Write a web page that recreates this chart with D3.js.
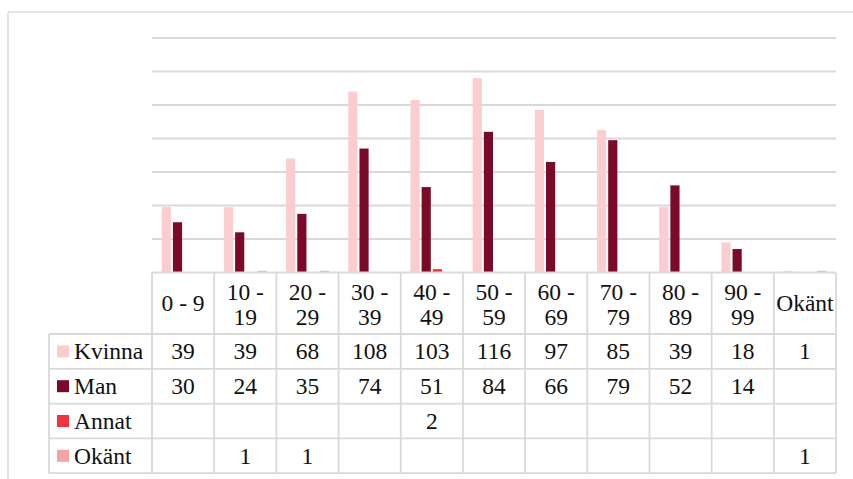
<!DOCTYPE html>
<html>
<head>
<meta charset="utf-8">
<script src="https://cdn.jsdelivr.net/npm/d3@7"></script>
<style>
  html, body { margin: 0; padding: 0; background: #fff; }
  svg { display: block; }
</style>
</head>
<body>
<svg id="chart" width="853" height="479"></svg>
<script>
// Age groups (columns) and series (rows of the data table)
const categories = ["0 - 9", "10 - 19", "20 - 29", "30 - 39", "40 - 49", "50 - 59",
                    "60 - 69", "70 - 79", "80 - 89", "90 - 99", "Okänt"];
const seriesNames = ["Kvinna", "Man", "Annat", "Okänt"];
const kvinna = [39, 39, 68, 108, 103, 116, 97, 85, 39, 18, 1];
const man    = [30, 24, 35, 74, 51, 84, 66, 79, 52, 14, null];
const annat  = [null, null, null, null, 2, null, null, null, null, null, null];
const okant  = [null, 1, 1, null, null, null, null, null, null, null, 1];
const yTicks = [0, 20, 40, 60, 80, 100, 120, 140];
const colors = ["#FBCDCE", "#7A0A28", "#F1343E", "#F6A3A4"];

const seriesValues = [kvinna, man, annat, okant];

const svg = d3.select("#chart");
const gridColor = "#D9D9D9";
const lineW = 1.8;
const fontFamily = '"Liberation Serif", serif';
const fs = 23.5;

// Layout
const plotLeft = 152, plotRight = 836;
const plotTop = 38, plotBottom = 272.5;
const headerBottom = 334;
const rowH = 34.8;
const legendLeft = 49;

// Outer frame (top and left edges)
svg.append("line").attr("x1", 8).attr("x2", 853).attr("y1", 12).attr("y2", 12)
  .attr("stroke", "#DCDCDC").attr("stroke-width", 1.5);
svg.append("line").attr("x1", 8).attr("x2", 8).attr("y1", 12).attr("y2", 479)
  .attr("stroke", "#DCDCDC").attr("stroke-width", 1.5);

// Scales
const x = d3.scaleBand().domain(categories).range([plotLeft, plotRight]).padding(0);
const step = x.bandwidth();
const xs = d3.scaleBand().domain(seriesNames).range([0, step])
  .paddingInner(0.18).paddingOuter(0.87);
const y = d3.scaleLinear().domain([0, 140]).range([plotBottom, plotTop]);

// Horizontal gridlines
svg.append("g").selectAll("line").data(yTicks.filter(t => t > 0)).join("line")
  .attr("x1", plotLeft).attr("x2", plotRight)
  .attr("y1", d => y(d)).attr("y2", d => y(d))
  .attr("stroke", gridColor).attr("stroke-width", lineW);

// Bars
const barData = [];
seriesValues.forEach((vals, si) => {
  vals.forEach((v, ci) => {
    if (v != null) barData.push({ s: seriesNames[si], si, c: categories[ci], v });
  });
});
svg.append("g").selectAll("rect").data(barData).join("rect")
  .attr("x", d => x(d.c) + xs(d.s))
  .attr("width", xs.bandwidth())
  .attr("y", d => y(d.v))
  .attr("height", d => y(0) - y(d.v))
  .attr("fill", d => colors[d.si]);

// Data table
const table = svg.append("g");

function label(sel) {
  return sel.style("font-family", fontFamily).style("font-size", fs + "px").style("fill", "#111");
}

// Header row: category labels (ranges broken over two lines)
categories.forEach(c => {
  const cx = x(c) + step / 2;
  const parts = c.includes(" - ") && c !== "0 - 9" ? [c.split(" - ")[0] + " -", c.split(" - ")[1]] : [c];
  const t = label(table.append("text")).attr("text-anchor", "middle");
  if (parts.length === 1) {
    t.attr("x", cx).attr("y", (plotBottom + headerBottom) / 2 + 8).text(parts[0]);
  } else {
    t.append("tspan").attr("x", cx).attr("y", 300).text(parts[0]);
    t.append("tspan").attr("x", cx).attr("y", 325).text(parts[1]);
  }
});

// Series rows: legend key, name and values
seriesNames.forEach((name, si) => {
  const top = headerBottom + si * rowH;
  const cy = top + rowH / 2;
  table.append("rect").attr("x", 57).attr("y", cy - 6).attr("width", 12).attr("height", 12)
    .attr("fill", colors[si]);
  label(table.append("text")).attr("x", 74).attr("y", cy + 8).text(name);
  seriesValues[si].forEach((v, ci) => {
    if (v == null) return;
    label(table.append("text")).attr("x", x(categories[ci]) + step / 2).attr("y", cy + 8)
      .attr("text-anchor", "middle").text(v);
  });
});

// Table grid lines
const tableBottom = headerBottom + seriesNames.length * rowH;
const hLines = [{ y: plotBottom, x1: plotLeft, x2: plotRight }];
for (let i = 0; i <= seriesNames.length; i++) {
  hLines.push({ y: headerBottom + i * rowH, x1: legendLeft, x2: plotRight });
}
table.append("g").selectAll("line").data(hLines).join("line")
  .attr("x1", d => d.x1).attr("x2", d => d.x2).attr("y1", d => d.y).attr("y2", d => d.y)
  .attr("stroke", gridColor).attr("stroke-width", lineW);

const vLines = categories.map(c => x(c)).concat([plotRight]);
table.append("g").selectAll("line").data(vLines).join("line")
  .attr("x1", d => d).attr("x2", d => d).attr("y1", plotBottom).attr("y2", tableBottom)
  .attr("stroke", gridColor).attr("stroke-width", lineW);
table.append("line").attr("x1", legendLeft).attr("x2", legendLeft)
  .attr("y1", headerBottom).attr("y2", tableBottom)
  .attr("stroke", gridColor).attr("stroke-width", lineW);
</script>
</body>
</html>
